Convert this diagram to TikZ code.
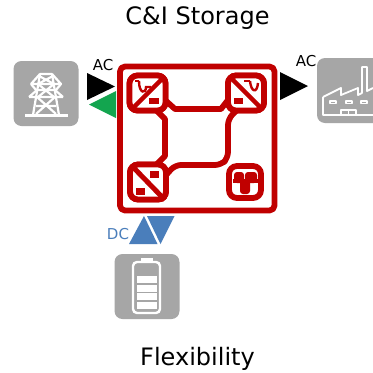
\documentclass[tikz,border=0pt]{standalone}
\usepackage{fontspec}
\setmainfont{DejaVu Sans}
\definecolor{cred}{HTML}{C00000}
\definecolor{cgray}{HTML}{A6A6A6}
\definecolor{cgreen}{HTML}{13A54F}
\definecolor{cblue}{HTML}{4A7EBB}
\tikzset{
 redline/.style={draw=cred,line width=5.8pt,line join=round},
 redthin/.style={draw=cred,line width=4.4pt},
 conv/.style={draw=cred,line width=5.8pt,rounded corners=8pt,minimum width=36pt,minimum height=35pt,inner sep=0pt,fill=white},
 wline/.style={draw=white,line width=2.2pt,line join=round},
 iconbox/.style={fill=cgray,rounded corners=8pt,draw=none,minimum width=65pt,minimum height=65pt,inner sep=0pt},
 lbl/.style={inner sep=0pt,font=\fontsize{15}{15}\selectfont},
 ttl/.style={inner sep=0pt,font=\fontsize{24}{24}\selectfont},
}
\begin{document}
\begin{tikzpicture}[x=1pt,y=-1pt]
\useasboundingbox (0,0) rectangle (373,373);
\fill[white] (0,0) rectangle (373,373);
\node[ttl] (t1) at (197.5,18) {C\&I Storage};
\node[ttl] (t2) at (197.5,359) {Flexibility};
% icon boxes
\node[iconbox] (grid) at (46,93.5) {};
\node[iconbox] (bat) at (147,286.5) {};
\node[iconbox] (fac) at (349.5,90.5) {};
% pylon
\draw[wline,line width=2.8pt] (25,115.5) -- (68,115.5);
\draw[wline] (33,115) -- (40,74) -- (52,74) -- (59,115);
\draw[wline] (31,84) -- (61,84) -- (52,74) (31,84) -- (40,74);
\draw[wline] (31,84) -- (36,90) -- (56,90) -- (61,84);
\draw[wline] (29,97) -- (63,97) (29,97) -- (37,90) (55,90) -- (63,97);
\draw[wline] (39,76) -- (54,84) (53,76) -- (38,84);
\draw[wline] (38,84) -- (54,97) (54,84) -- (38,97);
\draw[wline] (37,97) -- (56,114) (55,97) -- (36,114) (36,106) -- (56,106);
% factory
\draw[wline,line width=1.8pt] (323,97) -- (323,115) -- (373,115);
\draw[wline,line width=1.8pt] (323,97) -- (341,88) -- (341,95) -- (358,88) -- (358,95) -- (362,93) -- (362,67) -- (367,67) -- (367,91) -- (373,88);
\draw[wline,line width=1.4pt] (330,101) rectangle (336,103.5);
\draw[wline,line width=1.4pt] (346,101) rectangle (352,103.5);
\draw[wline,line width=1.4pt] (361,101) rectangle (367,103.5);
\draw[wline,line width=1.4pt] (341,115) -- (341,110) -- (356,110) -- (356,115) (348.5,110) -- (348.5,115);
% battery
\draw[draw=white,line width=2.4pt,rounded corners=4pt] (133,262) rectangle (160,313);
\fill[white] (141,258) rectangle (153,262);
\foreach \yy in {276,284.5,293,301.5}{\fill[white] (137,\yy) rectangle (157,\yy+7.3);}
% main box
\draw[redline,rounded corners=5pt] (120,66.5) rectangle (274.5,210.5);
\node[conv] (tl) at (147.5,93) {};
\node[conv] (tr) at (246,93) {};
\node[conv] (bl) at (148,182) {};
\node[conv,minimum width=32pt,minimum height=32pt] (br) at (245,182) {};
\coordinate (a1) at (165,100); \coordinate (a2) at (175,109); \coordinate (a3) at (221,109); \coordinate (a4) at (228,100);
\coordinate (b1) at (157,111); \coordinate (b2) at (165,119); \coordinate (b3) at (165,156); \coordinate (b4) at (157,164);
\coordinate (c1) at (167,174); \coordinate (c2) at (175,165); \coordinate (c3) at (221,165); \coordinate (c4) at (228,158); \coordinate (c5) at (228,119); \coordinate (c6) at (236,111);
\draw[redline] (a1) -- (a2) -- (a3) -- (a4);
\draw[redline] (b1) -- (b2) -- (b3) -- (b4);
\draw[redline,rounded corners=6pt] (c1) -- (c2) -- (c3) -- (c4) -- (c5) -- (c6);
% re-cover box interiors
\node[conv] at (147.5,93) {};
\node[conv] at (246,93) {};
\node[conv] at (148,182) {};
% TL inner
\draw[redthin] (131,110) -- (165,76);
\draw[cred,line width=2.4pt] (135,81) -- (139,81);
\draw[cred,line width=2.4pt] (139,81) .. controls (139,94) and (146,94) .. (146,87) -- (151,87);
\fill[cred] (149,98) rectangle (158.5,104);
% TR inner
\draw[redthin] (229,76) -- (263,110);
\draw[cred,line width=2.4pt] (244,81) -- (250,81);
\draw[cred,line width=2.4pt] (250,81) .. controls (251,92) and (257,94) .. (258,83);
\fill[cred] (234,98) rectangle (243,104);
% BL inner
\draw[cred,line width=5pt] (131,165) -- (165,200);
\fill[cred] (150,171) rectangle (159,178);
\fill[cred] (136,188) rectangle (145,195);
% BR inner (plug)
\fill[cred,rounded corners=3pt] (234,172) rectangle (244,183);
\fill[cred,rounded corners=3pt] (245,172) rectangle (257,183);
\fill[cred] (233,179) rectangle (258,183);
\fill[cred,rounded corners=3pt] (240,180) rectangle (250,194);
% arrows
\coordinate (k1) at (87,73); \coordinate (k2) at (115,86.5); \coordinate (k3) at (87,100);
\fill[black] (k1) -- (k2) -- (k3) -- cycle;
\fill[cgreen] (116,91) -- (116,118) -- (89,104.5) -- cycle;
\fill[black] (280,72) -- (308,86) -- (280,100) -- cycle;
\fill[cblue] (129,244) -- (144,216) -- (157.5,244) -- cycle;
\fill[cblue] (147,216) -- (174.5,216) -- (160.5,244) -- cycle;
% labels
\node[lbl] (ac1) at (103,65) {AC};
\node[lbl] (ac2) at (306,61) {AC};
\node[lbl,text=cblue] (dc) at (118,234) {DC};
\end{tikzpicture}
\end{document}
